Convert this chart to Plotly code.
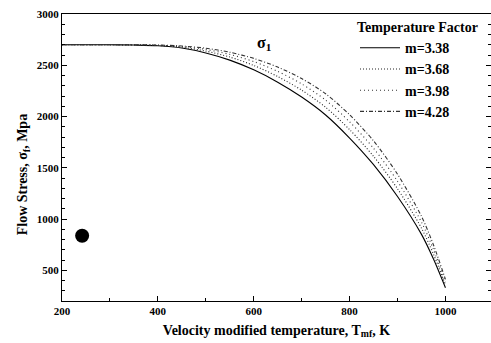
import plotly.graph_objects as go

# Velocity modified temperature (K)
temperature = [200, 300, 350, 400, 450, 500, 550, 600, 650, 700, 750, 800, 850, 900, 950, 975, 1000]

# Flow stress (MPa) for each temperature factor m
stress_m338 = [2700, 2700, 2697, 2690, 2668, 2620, 2550, 2455, 2335, 2190, 2015, 1790, 1530, 1220, 850, 610, 330]
stress_m368 = [2700, 2700, 2698, 2693, 2676, 2638, 2580, 2498, 2390, 2257, 2090, 1872, 1611, 1295, 910, 656, 357]
stress_m398 = [2700, 2700, 2699, 2695, 2683, 2654, 2606, 2536, 2440, 2318, 2160, 1948, 1690, 1368, 969, 702, 384]
stress_m428 = [2700, 2700, 2699, 2697, 2688, 2666, 2627, 2567, 2482, 2370, 2222, 2017, 1762, 1437, 1026, 747, 411]

series_names = ["m=3.38", "m=3.68", "m=3.98", "m=4.28"]
series_values = [stress_m338, stress_m368, stress_m398, stress_m428]
series_dash = ["solid", "1px,2px", "1px,3px", "4px,2px,1px,2px"]
series_color = ["black", "#222222", "#333333", "#333333"]

# Isolated black dot marker
dot_x = [242]
dot_y = [836]

# Curve label
label_x = [622]
label_y = [2717]

serif = "Liberation Serif"

fig = go.Figure()
for name, vals, dash, col in zip(series_names, series_values, series_dash, series_color):
    fig.add_trace(go.Scatter(
        x=temperature, y=vals, mode="lines", name="<b>" + name + "</b>",
        line=dict(color=col, width=1.1, dash=dash, shape="spline", smoothing=0.8),
    ))

fig.add_trace(go.Scatter(
    x=dot_x, y=dot_y, mode="markers", showlegend=False,
    marker=dict(color="black", size=14),
))

fig.add_annotation(
    x=label_x[0], y=label_y[0], xref="x", yref="y",
    text="<b>σ<sub>1</sub></b>", showarrow=False,
    font=dict(family=serif, size=16, color="black"),
)

# Y-axis title as an annotation, placed as in the reference
fig.add_annotation(
    x=-0.114, y=0.44, xref="paper", yref="paper",
    text="<b>Flow Stress, σ<sub>f</sub>, Mpa</b>", textangle=-90, showarrow=False,
    font=dict(family=serif, size=14, color="black"),
)

fig.update_layout(
    width=491, height=343,
    margin=dict(l=62, r=0, t=14, b=42),
    paper_bgcolor="white", plot_bgcolor="white",
    font=dict(family=serif, color="black"),
    legend=dict(
        x=0.683, y=1.0, xanchor="left", yanchor="top",
        bgcolor="rgba(0,0,0,0)", borderwidth=0,
        title=dict(text="<b>Temperature Factor</b>", font=dict(family=serif, size=14, color="black")),
        font=dict(family=serif, size=14, color="black"),
        itemwidth=40,
    ),
)

fig.update_xaxes(
    range=[200, 1095],
    tickmode="linear", tick0=200, dtick=200,
    ticks="inside", ticklen=5, tickwidth=1, tickcolor="black",
    minor=dict(dtick=100, tick0=200, ticks="inside", ticklen=3, tickwidth=1, tickcolor="black"),
    showline=True, linecolor="black", linewidth=1, mirror=True,
    showgrid=False, zeroline=False,
    tickfont=dict(family=serif, size=11, color="black"),
    tickprefix="<b>", ticksuffix="</b>",
    title=dict(text="<b>Velocity modified temperature, T<sub>mf</sub>, K</b>",
               font=dict(family=serif, size=14, color="black"), standoff=8),
)
fig.update_yaxes(
    range=[200, 3000],
    tickmode="linear", tick0=500, dtick=500,
    ticks="inside", ticklen=5, tickwidth=1, tickcolor="black",
    minor=dict(dtick=100, tick0=200, ticks="inside", ticklen=3, tickwidth=1, tickcolor="black"),
    showline=True, linecolor="black", linewidth=1, mirror="ticks",
    showgrid=False, zeroline=False,
    tickfont=dict(family=serif, size=11, color="black"),
    tickprefix="<b>", ticksuffix="</b>",
)

fig.write_html("out.html")
